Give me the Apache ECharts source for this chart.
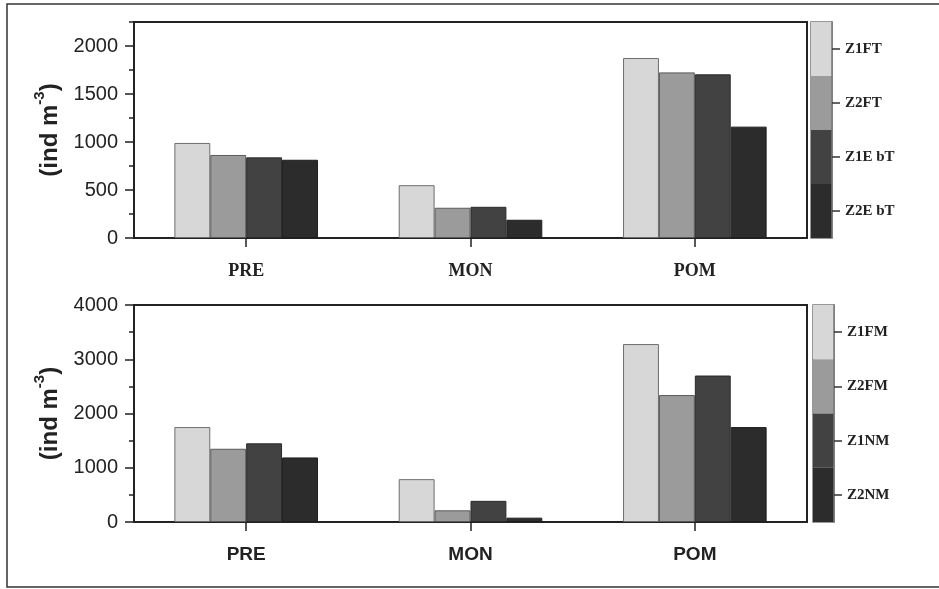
<!DOCTYPE html>
<html>
<head>
<meta charset="utf-8">
<script src="https://cdn.jsdelivr.net/npm/echarts@6/dist/echarts.min.js"></script>
<style>html,body{margin:0;padding:0;background:#fff;}#c{width:939px;height:589px;}</style>
</head>
<body>
<div id="c"></div>
<script>
var categories = ['PRE', 'MON', 'POM'];
var topNames = ['Z1FT', 'Z2FT', 'Z1E bT', 'Z2E bT'];
var topZ1FT = [990, 550, 1875];
var topZ2FT = [865, 315, 1725];
var topZ1EbT = [840, 325, 1705];
var topZ2EbT = [815, 190, 1160];
var botNames = ['Z1FM', 'Z2FM', 'Z1NM', 'Z2NM'];
var botZ1FM = [1750, 790, 3280];
var botZ2FM = [1350, 215, 2340];
var botZ1NM = [1450, 390, 2700];
var botZ2NM = [1190, 80, 1750];
var topTicks = [0, 500, 1000, 1500, 2000];
var botTicks = [0, 1000, 2000, 3000, 4000];
var legendUnit = [1, 1, 1, 1];

var colors = ['#d7d7d7', '#9b9b9b', '#424242', '#2c2c2c'];
var borders = ['#6e6e6e', '#5a5a5a', '#2a2a2a', '#1e1e1e'];

var chart = echarts.init(document.getElementById('c'));

function plain(v) { return String(v); }

function barSeries(name, data, i, xi) {
  return {
    type: 'bar', name: name, data: data, xAxisIndex: xi, yAxisIndex: xi === 0 ? 0 : 2,
    barGap: '0%', barCategoryGap: '36%',
    itemStyle: { color: colors[i], borderColor: borders[i], borderWidth: 1 },
    emphasis: { disabled: true }, silent: true
  };
}

var nameStyle = {
  rich: {
    a: { fontFamily: 'Liberation Sans', fontWeight: 'bold', fontSize: 24, color: '#222', lineHeight: 30, verticalAlign: 'bottom' },
    sup: { fontFamily: 'Liberation Sans', fontWeight: 'bold', fontSize: 15, color: '#222', verticalAlign: 'top', lineHeight: 30 }
  }
};

function mainY(gi, max, interval, ticks) {
  return {
    type: 'value', gridIndex: gi, min: 0, max: max, interval: interval, position: 'left',
    name: '{a|(ind m}{sup|-3}{a|)}', nameLocation: 'middle', nameGap: 55, nameRotate: 90,
    nameTextStyle: nameStyle,
    axisLine: { show: true, lineStyle: { color: '#222', width: 2 } },
    axisTick: { show: true, length: 9, customValues: ticks, lineStyle: { color: '#222', width: 1.5 } },
    axisLabel: { customValues: ticks, formatter: plain, margin: 16, fontFamily: 'Liberation Sans', fontSize: 20, color: '#222' },
    splitLine: { show: false },
    minorTick: { show: gi === 1, splitNumber: 2, length: 5, lineStyle: { color: '#222', width: 1.5 } }
  };
}

function mainX(gi, font, size, margin) {
  return {
    type: 'category', gridIndex: gi, data: categories, boundaryGap: true,
    axisLine: { show: true, lineStyle: { color: '#222', width: 2 } },
    axisTick: { show: true, alignWithLabel: true, length: 9, lineStyle: { color: '#222', width: 1.5 } },
    axisLabel: { margin: margin, fontFamily: font, fontWeight: 'bold', fontSize: size, color: '#222' },
    splitLine: { show: false }
  };
}

function legendY(gi, names, margin) {
  return {
    type: 'category', gridIndex: gi, data: names, inverse: true, position: 'right', z: 5,
    axisLine: { show: true, onZero: false, lineStyle: { color: '#777', width: 1.5 } },
    axisTick: { show: true, interval: 0, alignWithLabel: true, length: 8, lineStyle: { color: '#333', width: 1.5 } },
    axisLabel: { interval: 0, margin: margin, fontFamily: 'Liberation Serif', fontWeight: 'bold', fontSize: 15, color: '#222' },
    splitLine: { show: false }
  };
}

function legendSeries(gi, yi) {
  return {
    type: 'bar', xAxisIndex: gi, yAxisIndex: yi, barWidth: '100%', barCategoryGap: '0%',
    data: legendUnit.map(function (v, i) { return { value: v, itemStyle: { color: colors[i] } }; }),
    silent: true, emphasis: { disabled: true }
  };
}

var option = {
  animation: false,
  backgroundColor: '#fff',
  grid: [
    { left: 134, width: 673, top: 22, height: 216, show: true, borderColor: '#222', borderWidth: 2, backgroundColor: 'transparent' },
    { left: 134, width: 673, top: 305, height: 217, show: true, borderColor: '#222', borderWidth: 2, backgroundColor: 'transparent' },
    { left: 811, width: 21, top: 22, height: 216, show: true, borderColor: '#777', borderWidth: 1.5, backgroundColor: 'transparent' },
    { left: 813, width: 21, top: 305, height: 217, show: true, borderColor: '#777', borderWidth: 1.5, backgroundColor: 'transparent' }
  ],
  xAxis: [
    mainX(0, 'Liberation Serif', 18, 24),
    mainX(1, 'Liberation Sans', 19, 23),
    { type: 'value', gridIndex: 2, min: 0, max: 1, show: false },
    { type: 'value', gridIndex: 3, min: 0, max: 1, show: false }
  ],
  yAxis: [
    mainY(0, 2250, 500, topTicks),
    { type: 'value', gridIndex: 0, min: 0, max: 2250, interval: 250, position: 'left', axisLine: { show: false },
      axisTick: { show: true, length: 5, lineStyle: { color: '#222', width: 1.5 } },
      axisLabel: { show: false }, splitLine: { show: false } },
    mainY(1, 4000, 1000, botTicks),
    legendY(2, topNames, 13),
    legendY(3, botNames, 13)
  ],
  series: [
    barSeries('Z1FT', topZ1FT, 0, 0),
    barSeries('Z2FT', topZ2FT, 1, 0),
    barSeries('Z1EbT', topZ1EbT, 2, 0),
    barSeries('Z2EbT', topZ2EbT, 3, 0),
    barSeries('Z1FM', botZ1FM, 0, 1),
    barSeries('Z2FM', botZ2FM, 1, 1),
    barSeries('Z1NM', botZ1NM, 2, 1),
    barSeries('Z2NM', botZ2NM, 3, 1),
    legendSeries(2, 3),
    legendSeries(3, 4)
  ],
  graphic: [
    { type: 'rect', shape: { x: 7, y: 4, width: 945, height: 583 }, style: { fill: 'none', stroke: '#333', lineWidth: 1.5 }, silent: true, z: 100 }
  ]
};
chart.setOption(option);
</script>
</body>
</html>
